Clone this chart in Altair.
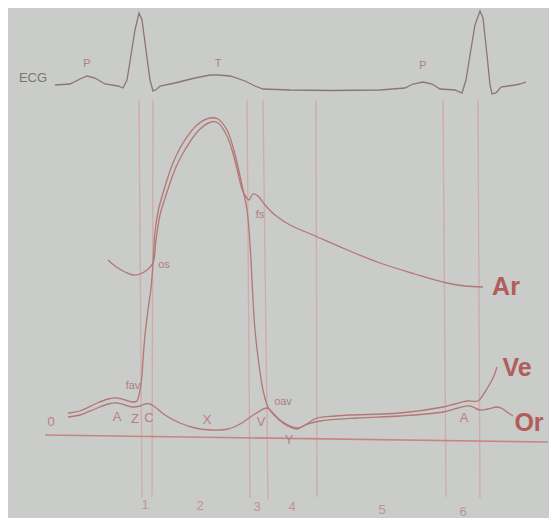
import altair as alt
import pandas as pd

# ---------------- data (diagram units, y grows downward) ----------------
ecg_x = [55, 70, 80, 87, 95, 105, 118, 123, 127, 131, 135, 139, 142, 146, 150, 153, 157, 160, 175, 195,
         210, 218, 230, 245, 255, 263, 290, 330, 380, 405, 413, 423, 432, 440, 455, 462, 466, 470, 475,
         480, 483, 487, 490, 492, 496, 501, 508, 515, 520, 526]
ecg_y = [85, 84, 79, 76, 78, 84, 86, 88, 80, 55, 30, 13, 20, 50, 80, 91, 89, 86, 83, 78,
         75, 75, 76, 81, 86, 89, 90, 90.5, 90, 88, 84, 82, 84, 89, 90, 93, 80, 55, 25,
         11, 18, 55, 85, 94, 93, 87, 86, 85, 84, 82]

ve_x = [68, 80, 95, 108, 117, 125, 133, 137, 140, 142, 143, 145, 148, 151, 153, 155, 158, 163, 173, 183,
        197, 210, 218, 227, 233, 238, 243, 247, 249, 251, 253, 255, 259, 263, 268, 275, 283, 290, 297, 305,
        317, 335, 350, 400, 443, 455, 467, 478, 483, 488, 493, 497]
ve_y = [413, 411, 404, 399, 398, 400, 402, 401, 390, 375, 360, 335, 310, 288, 263, 232, 212, 193, 163, 143,
        125, 118, 119, 130, 147, 167, 190, 210, 230, 260, 300, 330, 365, 390, 407, 416, 423, 427, 429, 425,
        418, 416, 415, 413, 407, 404, 401, 401, 395, 387, 378, 367]

or_x = [68, 80, 95, 108, 117, 125, 133, 140, 145, 150, 155, 165, 180, 195, 213, 228, 240, 255, 267, 273,
        280, 290, 298, 308, 320, 357, 400, 443, 458, 470, 480, 488, 497, 503, 507, 513]
or_y = [417, 415, 409, 404, 403, 405, 407, 406, 404, 404, 407, 415, 423, 428, 430, 429, 424, 414, 408, 413,
        420, 426, 428, 424, 421, 418, 416, 412, 408, 406, 410, 409, 407, 409, 412, 416]

ar_x = [108, 115, 125, 133, 140, 147, 153, 156, 160, 166, 176, 186, 199, 211, 218, 226, 232, 237, 242, 246,
        249, 253, 258, 265, 275, 290, 313, 345, 380, 415, 447, 465, 483]
ar_y = [260, 266, 272, 275, 274, 270, 263, 240, 215, 195, 167, 148, 130, 122, 123, 134, 150, 169, 189, 197,
        200, 194, 196, 205, 215, 225, 235, 249, 263, 274, 283, 286, 287]

# phase boundary lines (top x, bottom x)
vl_x_top = [139, 153, 247, 263, 316, 443, 478]
vl_x_bot = [142, 152, 250, 268, 317, 446, 480]
vl_y_top = [100, 100, 100, 100, 100, 100, 100]
vl_y_bot = [498, 497, 498, 500, 497, 497, 498]

base_x = [45, 548]
base_y = [435, 442]

small_txt = ["P", "T", "P", "fav", "oav", "os", "fs"]
small_x = [87, 218, 423, 133, 283, 164, 260]
small_y = [64, 64, 66, 386, 402, 265, 215]

mid_txt = ["0", "A", "Z", "C", "X", "V", "Y", "A"]
mid_x = [51, 117, 135, 149, 207, 261, 289, 464]
mid_y = [422, 417, 419, 418, 420, 422, 440, 418]

phase_txt = ["1", "2", "3", "4", "5", "6"]
phase_x = [145, 200, 257, 292, 382, 463]
phase_y = [505, 506, 507, 507, 510, 512]

big_txt = ["Ar", "Ve", "Or"]
big_x = [506, 517, 529]
big_y = [287, 368, 423]

# ---------------- scales ----------------
xs = alt.Scale(domain=[8, 549], nice=False, zero=False)
ys = alt.Scale(domain=[8, 518], nice=False, zero=False, reverse=True)
X = lambda f: alt.X(f, type="quantitative", scale=xs, axis=None)
Y = lambda f: alt.Y(f, type="quantitative", scale=ys, axis=None)


def curve(xv, yv, color, width, interp):
    df = pd.DataFrame({"x": xv, "y": yv, "i": range(len(xv))})
    return alt.Chart(df).mark_line(color=color, strokeWidth=width, interpolate=interp).encode(
        x=X("x"), y=Y("y"), order=alt.Order("i:Q"))


def labels(tx, xv, yv, size, color, weight="normal"):
    return alt.Chart(pd.DataFrame({"x": xv, "y": yv, "t": tx})).mark_text(
        font="Liberation Sans", fontSize=size, color=color, fontWeight=weight,
        align="center", baseline="middle").encode(x=X("x"), y=Y("y"), text="t:N")


vlines = alt.Chart(pd.DataFrame({"x": vl_x_top, "x2": vl_x_bot, "y": vl_y_top, "y2": vl_y_bot})).mark_rule(
    color="#d3a9a9", strokeWidth=1.3).encode(x=X("x"), x2="x2", y=Y("y"), y2="y2")

baseline = alt.Chart(pd.DataFrame({"x": [base_x[0]], "x2": [base_x[1]], "y": [base_y[0]], "y2": [base_y[1]]})).mark_rule(
    color="#c98383", strokeWidth=1.6).encode(x=X("x"), x2="x2", y=Y("y"), y2="y2")

ecg = curve(ecg_x, ecg_y, "#8f7474", 1.3, "linear")
ar = curve(ar_x, ar_y, "#b47676", 1.3, "catmull-rom")
ve = curve(ve_x, ve_y, "#b47676", 1.3, "catmull-rom")
orr = curve(or_x, or_y, "#b47676", 1.3, "catmull-rom")

ecg_label = labels(["ECG"], [33], [78], 13, "#7c7474")
small = labels(small_txt, small_x, small_y, 11, "#b07e7e")
mid = labels(mid_txt, mid_x, mid_y, 13, "#b88080")
phases = labels(phase_txt, phase_x, phase_y, 13, "#c09494")
big = labels(big_txt, big_x, big_y, 25, "#b25c5c", "bold")

chart = alt.layer(vlines, baseline, ecg, ar, ve, orr, ecg_label, small, mid, phases, big).properties(
    width=541, height=510, autosize=alt.AutoSizeParams(type="none"), padding=0,
    background="#c9ccc8").configure_view(stroke=None)

chart.save("out.html", embed_options={"renderer": "svg", "actions": False})
